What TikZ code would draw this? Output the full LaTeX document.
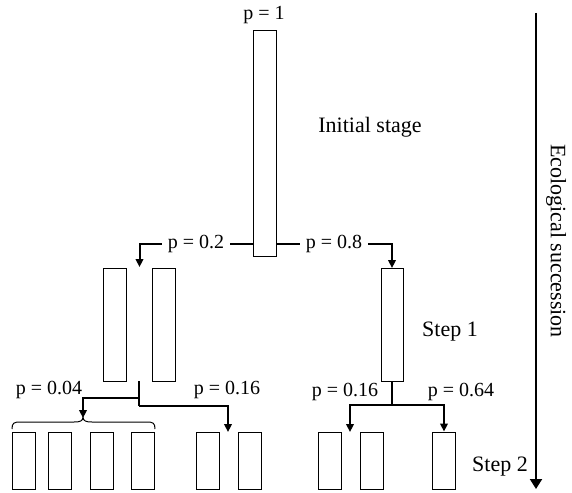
\documentclass[tikz,border=0pt]{standalone}
\usepackage{fontspec}
\setmainfont{Liberation Serif}
\usetikzlibrary{arrows.meta}
\tikzset{
  box/.style={draw, line width=0.5pt, inner sep=0pt, minimum width=11.5pt},
  tall/.style={box, minimum height=56.5pt},
  small/.style={box, minimum height=28.5pt},
  conn/.style={line width=1pt, -{Triangle[width=3.8pt,length=4pt]}},
  plain/.style={line width=1pt},
  plab/.style={font=\fontsize{10}{11}\selectfont, inner sep=1pt},
  blab/.style={font=\fontsize{11}{13}\selectfont, inner sep=1pt},
}
\begin{document}
\begin{tikzpicture}[x=0.5pt,y=-0.5pt]
\useasboundingbox (0,0) rectangle (572,492);
% initial stage
\node[box, minimum height=112.5pt] (R0) at (265,143.5) {};
% step 1
\node[tall] (A1) at (114.5,324.5) {};
\node[tall] (A2) at (163.5,324.5) {};
\node[tall, minimum width=11pt] (B1) at (392,325) {};
% step 2
\foreach \n/\x in {1/23.5,2/59.5,3/101.5,4/143,5/207.5,6/249.5,7/329.5,8/371.5,9/444}
  \node[small] (S\n) at (\x,460.5) {};
% coordinates
\coordinate (gA) at (139.5,267);
\coordinate (sA) at (139.3,381);
\coordinate (jA) at (139.3,398);
\coordinate (kA) at (139.3,406);
\coordinate (gL1) at (83,418);
\coordinate (gL2) at (228,432);
\coordinate (jB) at (392,405);
\coordinate (gR1) at (350,432);
\coordinate (top) at (536,13);
\coordinate (bot) at (536,489);
% connectors from initial stage
\draw[conn] (R0.west |- 0,244) -| (gA);
\draw[conn] (R0.east |- 0,244) -| (B1.north);
\node[plab, fill=white, inner xsep=3pt] (l02) at (196,244) {p = 0.2};
\node[plab, fill=white, inner xsep=3pt] (l08) at (334,244) {p = 0.8};
% left split
\draw[plain] (sA) -- (kA);
\draw[conn] (jA) -| (gL1);
\draw[conn] (kA) -| (gL2);
% brace
\draw[line width=0.5pt] (12,429) .. controls (12,423) and (14,422) .. (20,422) -- (74,422)
  .. controls (80,422) and (83,421) .. (83,417) .. controls (83,421) and (86,422) .. (92,422)
  -- (147,422) .. controls (153,422) and (155,423) .. (155,429);
% right split
\draw[plain] (B1.south) -- (jB);
\draw[conn] (jB) -| (gR1);
\draw[conn] (jB) -| (S9.north);
% succession arrow
\draw[line width=1pt, -{Triangle[width=6pt,length=5pt]}] (top) -- (bot);
% labels
\node[plab] (p1) at (264,15) {p = 1};
\node[blab] (init) at (370,127) {Initial stage};
\node[blab] (st1) at (450,332) {Step 1};
\node[plab] (p004) at (49,390) {p = 0.04};
\node[plab] (p016a) at (227,390) {p = 0.16};
\node[plab] (p016b) at (345,392) {p = 0.16};
\node[plab] (p064) at (461,392) {p = 0.64};
\node[blab] (st2) at (500,467) {Step 2};
\node[blab, rotate=-90] (eco) at (556,241) {Ecological succession};
\end{tikzpicture}
\end{document}
